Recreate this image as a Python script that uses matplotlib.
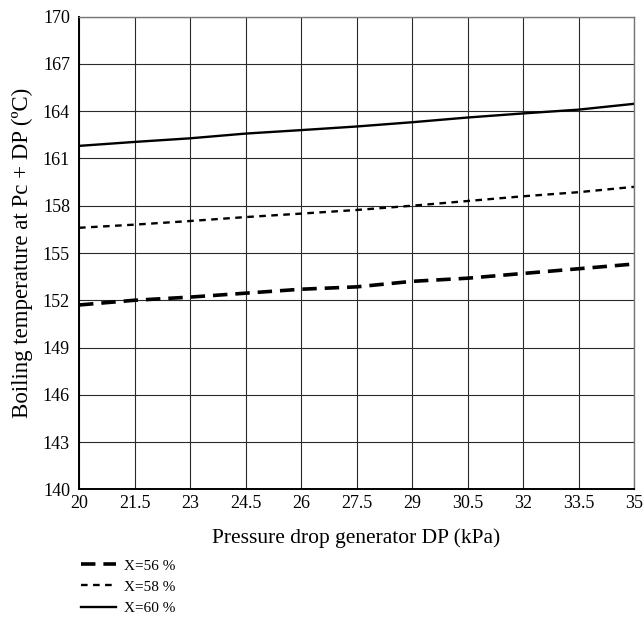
import numpy as np
import matplotlib
matplotlib.use('Agg')
import matplotlib.pyplot as plt

#------------------------------------------------------------------
#   DATA
#------------------------------------------------------------------
dp = [20, 21.5, 23, 24.5, 26, 27.5, 29, 30.5, 32, 33.5, 35]
t_x56 = [151.7, 152.0, 152.2, 152.45, 152.7, 152.85, 153.2, 153.4, 153.7, 154.0, 154.3]
t_x58 = [156.6, 156.8, 157.03, 157.28, 157.5, 157.73, 158.0, 158.3, 158.6, 158.86, 159.2]
t_x60 = [161.8, 162.05, 162.28, 162.58, 162.8, 163.03, 163.3, 163.6, 163.86, 164.1, 164.47]

xticks = [20, 21.5, 23, 24.5, 26, 27.5, 29, 30.5, 32, 33.5, 35]
xticklabels = ['20', '21.5', '23', '24.5', '26', '27.5', '29', '30.5', '32', '33.5', '35']
yticks = [140, 143, 146, 149, 152, 155, 158, 161, 164, 167, 170]

#------------------------------------------------------------------
#   PLOTTING
#------------------------------------------------------------------
plt.rcParams['font.family'] = ['Liberation Serif', 'DejaVu Serif']

fig = plt.figure(figsize=(6.44, 6.18), dpi=100)
ax = fig.add_axes([79/644., 1-489.3/618., (634-79)/644., (489.3-16.7)/618.])

ax.plot(dp, t_x56, color='black', lw=2.6, linestyle=(0, (4, 2.2)), label='X=56 %')
ax.plot(dp, t_x58, color='black', lw=1.7, linestyle=(0, (2.8, 2.3)), label='X=58 %')
ax.plot(dp, t_x60, color='black', lw=1.7, linestyle='-', label='X=60 %')

ax.set_xlim(20, 35)
ax.set_ylim(140, 170)
ax.set_xticks(xticks)
ax.set_xticklabels(xticklabels)
ax.set_yticks(yticks)
ax.grid(True, color='#2a2a2a', lw=0.8)
ax.tick_params(length=0, labelsize=13)
ax.tick_params(axis='x', pad=4)
ax.tick_params(axis='y', pad=6.5)

for s in ['top', 'right']:
    ax.spines[s].set_color('#777777')
    ax.spines[s].set_linewidth(1.0)
for s in ['left', 'bottom']:
    ax.spines[s].set_linewidth(1.4)

ax.set_xlabel('Pressure drop generator DP (kPa)', fontsize=15.5, labelpad=12)
ax.set_ylabel('Boiling temperature at Pc + DP (ºC)', fontsize=16.5, labelpad=7)

ax.legend(loc='upper left', bbox_to_anchor=(75/644., 1-553/618.),
          bbox_transform=fig.transFigure, frameon=False, fontsize=11,
          handlelength=2.3, handletextpad=0.5, labelspacing=0.48,
          borderaxespad=0)

fig.savefig('out.png', dpi=100)
